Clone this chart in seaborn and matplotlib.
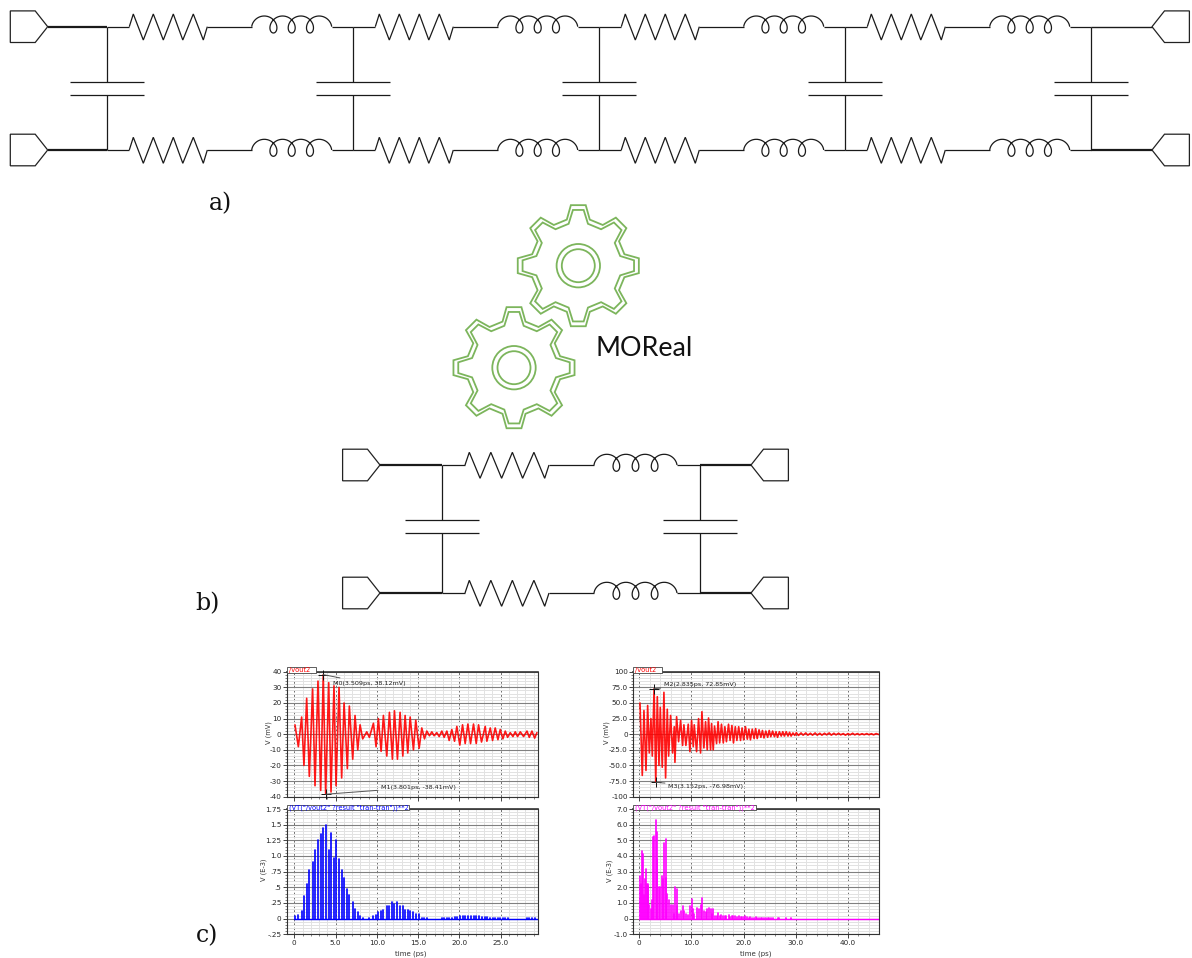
import numpy as np
import pandas as pd
import matplotlib
matplotlib.use('Agg')
import matplotlib.pyplot as plt
from matplotlib.patches import Polygon, Circle, Rectangle
import seaborn as sns

W, H = 1192, 958

# left column, /vout2 extrema (ps, mV)
t_left = [0.08, 0.49, 0.89, 1.17, 1.50, 1.82, 2.22, 2.51, 2.87, 3.20, 3.509, 3.801, 4.17, 4.45, 4.81, 5.06,
          5.42, 5.74, 6.03, 6.43, 6.67, 7.08, 7.36, 7.69, 7.97, 8.29, 8.78, 9.10, 9.59, 9.91, 10.19, 10.52,
          10.80, 11.21, 11.53, 11.89, 12.14, 12.50, 12.82, 13.15, 13.43, 13.75, 14.04, 14.44, 14.72, 15.13,
          15.45, 15.78, 16.06, 16.38, 16.67, 16.95, 17.27, 17.56, 17.88, 18.16, 18.49, 18.77, 19.09, 19.42,
          19.70, 20.06, 20.39, 20.71, 21.04, 21.36, 21.72, 22.05, 22.33, 22.69, 23.14, 23.34, 23.75, 24.03,
          24.35, 24.68, 24.96, 25.28, 25.57, 25.85, 26.17, 26.50, 26.78, 27.06, 27.39, 27.79, 28.20, 28.48,
          28.80, 29.13, 29.41]
v_left = [6, -8, 11, -20, 23, -27, 29, -33, 34, -36, 38.12, -38.41, 33, -37, 31, -33,
          30, -28, 20, -22, 18, -16, 12, -10, 6, -3, 1.5, -2, 7, -8, 10, -11,
          12, -14, 14, -16, 15, -16, 14, -14, 12, -12, 11, -10, 9, -9,
          4, -3, 2, -1, 1.5, -1, 1, -1.5, 2, -2, 2, -4, 3, -4.5,
          5, -7, 6, -6, 6.5, -6, 6.5, -6, 6, -5, 5, -4.5, 4, -4,
          4, -3.5, 3, -3, 2, -2, 1, -1.5, 1.5, -1.5, 1.5, -1.5, 2, -2,
          2, -2.5, 1]
# left column, squared output peaks (E-3)
v2_left = [.036, .064, .12, .36, .55, .78, .9, 1.09, 1.25, 1.35, 1.45, 1.5, 1.09, 1.37, .96, 1.25,
           .95, .78, .65, .48, .38, .26, .15, .1, .036, .01, .002, .004, .05, .06, .1, .12,
           .14, .2, .2, .26, .23, .26, .2, .2, .14, .14, .12, .1, .08, .08,
           .016, .01, .004, .001, .002, .001, .001, .002, .004, .004, .004, .016, .01, .02,
           .025, .05, .036, .036, .042, .036, .042, .036, .036, .025, .025, .02, .016, .016,
           .016, .012, .01, .01, .004, .004, .001, .002, .002, .002, .002, .002, .004, .004,
           .004, .006, .001]

# right column, /vout2 extrema (ps, mV)
t_right = [.13, .57, .89, 1.28, 1.6, 1.91, 2.23, 2.49, 2.835, 3.152, 3.45, 3.77, 4.02, 4.4, 4.72, 5.04,
           5.36, 5.62, 6.0, 6.38, 6.7, 6.83, 7.15, 7.53, 7.91, 8.3, 8.55, 8.93, 9.38, 9.7, 10.02, 10.34,
           10.53, 10.98, 11.36, 11.74, 12.0, 12.38, 12.7, 13.02, 13.27, 13.66, 13.85, 14.17, 14.42, 14.81,
           15.1, 15.4, 15.75, 16.1, 16.4, 16.7, 17.1, 17.4, 17.75, 18.05, 18.4, 18.7, 19.05, 19.4, 19.7, 20.0,
           20.35, 20.7, 21.0, 21.3, 21.65, 22.0, 22.3, 22.6, 22.95, 23.3, 23.6, 23.9, 24.25, 24.6, 24.9, 25.2,
           25.55, 25.9, 26.2, 26.5, 26.85, 27.2, 27.5, 27.8, 28.15, 28.5, 28.8, 29.1, 29.45, 29.8, 30.1, 30.5,
           31.0, 31.4, 31.9, 32.3, 32.8, 33.2, 33.7, 34.1, 34.6, 35.0, 35.5, 35.9, 36.4, 36.8, 37.3, 37.7,
           38.2, 38.6, 39.1, 39.5, 40.0, 40.4, 40.9, 41.3, 41.8, 42.2, 42.7, 43.1, 43.6, 44.0, 44.5, 44.9,
           45.4, 45.9]
v_right = [50, -66, 38, -58, 46, -30, 25, -35, 72.85, -76.98, 60, -50, 43, -53, 67, -70,
           40, -35, 30, -30, 12, -45, 28, -12, 22, -18, 15, -18, 16, -28, 22, -20,
           15, -28, 25, -30, 36, -22, 20, -25, 26, -25, 17, -25, 13, -15,
           20, -14, 16, -14, 12, -12, 16, -10, 14, -14, 12, -10, 12, -10, 10, -9,
           12, -8, 8, -9, 8, -7, 9, -7, 7, -5, 6, -6, 5, -5, 6, -4,
           5, -4, 4, -5, 4, -3, 4, -3, 4, -3, 3, -3, 2, -2, 2.5, -2,
           2, -1.5, 2, -1.5, 1.5, -1.5, 2, -1.5, 1.5, -1.5, 1.5, -1, 2, -1.5, 1.5, -1,
           1.5, -1, 1, -1.5, 1, -1, 1.5, -1, 1, -1, .8, -.8, 1, -.8, .8, -1,
           1, -.5]
# right column, squared output peaks (E-3)
t2_right = [.13, .35, .57, .75, .89, 1.1, 1.28, 1.45, 1.6, 1.75, 1.91, 2.23, 2.49, 2.65, 2.81, 3.13, 3.3, 3.45,
            3.77, 4.02, 4.4, 4.55, 4.72, 5.04, 5.2, 5.36, 5.62, 6.0, 6.38, 6.7, 6.83, 7.15, 7.3, 7.53, 7.91,
            8.3, 8.55, 8.93, 9.38, 9.7, 10.02, 10.34, 10.53, 10.98, 11.36, 11.74, 12.0, 12.38, 12.7, 13.02,
            13.27, 13.66, 13.85, 14.17, 14.42, 14.81, 15.1, 15.4, 15.75, 16.1, 16.4, 16.7, 17.1, 17.4, 17.75,
            18.05, 18.4, 18.7, 19.05, 19.4, 19.7, 20.0, 20.35, 20.7, 21.0, 21.3, 21.65, 22.0, 22.3, 22.6, 22.95,
            23.3, 23.6, 23.9, 24.25, 24.6, 24.9, 25.2, 25.55, 26.5, 26.85, 28.15, 29.0]
v2_right = [2.7, 2.2, 4.3, 4.1, 1.5, 2.5, 3.2, 2.2, 2.1, 2.2, .9, .6, 1.2, 5.2, 5.3, 6.3, 5.5, 3.8,
            2.0, 2.0, 2.7, 2.5, 4.8, 5.1, 2.6, 1.6, 1.2, .9, .9, .3, 2.0, 1.9, .8, .3, .5,
            .8, .5, .3, .25, .8, 1.25, .6, .3, .7, .6, .9, 1.3, .5, .4, .6,
            .65, .6, .3, .6, .2, .2, .35, .2, .25, .2, .15, .15, .25, .1, .2,
            .2, .15, .1, .15, .1, .1, .08, .15, .08, .07, .08, .06, .05, .08, .05, .05,
            .03, .03, .04, .03, .03, .04, .02, .03, .03, .02, .02, .01]

left_xticks = [0, 5, 10, 15, 20, 25]
left_xlabels = ['0', '5.0', '10.0', '15.0', '20.0', '25.0']
right_xticks = [0, 10, 20, 30, 40]
right_xlabels = ['0', '10.0', '20.0', '30.0', '40.0']
lt_yticks = [-40, -30, -20, -10, 0, 10, 20, 30, 40]
lt_ylabels = ['-40', '-30', '-20', '-10', '0', '10', '20', '30', '40']
lb_yticks = [-.25, 0, .25, .5, .75, 1.0, 1.25, 1.5, 1.75]
lb_ylabels = ['-.25', '0', '.25', '.5', '.75', '1.0', '1.25', '1.5', '1.75']
rt_yticks = [-100, -75, -50, -25, 0, 25, 50, 75, 100]
rt_ylabels = ['-100', '-75.0', '-50.0', '-25.0', '0', '25.0', '50.0', '75.0', '100']
rb_yticks = [-1, 0, 1, 2, 3, 4, 5, 6, 7]
rb_ylabels = ['-1.0', '0', '1.0', '2.0', '3.0', '4.0', '5.0', '6.0', '7.0']

SQ_TITLE = '(VT("/vout2" ?result "tran-tran"))**2'
WIRE = '#1a1a1a'

sns.set_style('white')
plt.rcParams['font.family'] = ['DejaVu Sans']

fig = plt.figure(figsize=(W / 100, H / 100), dpi=100)
fig.patch.set_facecolor('white')

canvas = fig.add_axes([0, 0, 1, 1], zorder=10)
canvas.set_xlim(0, W)
canvas.set_ylim(H, 0)
canvas.axis('off')
canvas.patch.set_alpha(0)


def line(xs, ys, lw=0.9, color=WIRE):
  canvas.plot(xs, ys, color=color, lw=lw, solid_capstyle='butt', solid_joinstyle='miter')


def port(tip, yc, direction):
  # direction 1 = body on the left of the tip
  xs = [tip - 37.4 * direction, tip - 12.5 * direction, tip, tip - 12.5 * direction, tip - 37.4 * direction]
  ys = [yc - 15.8, yc - 15.8, yc, yc + 15.8, yc + 15.8]
  canvas.add_patch(Polygon(np.column_stack([xs, ys]), closed=True, fill=False, ec='#222222', lw=0.9))


def resistor(x0, y, width=78):
  s = width / 78
  off = np.array([0, 4, 14, 24, 34, 44, 53.5, 64, 74, 78]) * s
  dy = [0, -12.7, 13.3, -12.7, 13.3, -12.7, 13.3, -12.7, 13.3, 0]
  line(x0 + off, y + np.array(dy))


def inductor(x0, y, width=80, r=7.5):
  th1 = 1.31
  th = np.linspace(th1, 8 * np.pi - th1, 300)
  pad = r * np.sin(th1)
  xs = x0 + pad + (width - 2 * pad) * (th - th1) / (8 * np.pi - 2 * th1) - r * np.sin(th)
  ys = y - 10.7 + 17 * (1 + np.cos(th)) / 2
  line(xs, ys)


def cap(x, y_top, y_bot, half=37):
  y1 = y_top + 55.3
  y2 = y1 + 12.7
  line([x, x], [y_top, y1])
  line([x, x], [y2, y_bot])
  line([x - half, x + half], [y1, y1])
  line([x - half, x + half], [y2, y2])


def gear(cx, cy):
  for tip, base, a_tip, a_base in [(61, 47.5, 7, 14), (56, 43, 5.5, 13)]:
    pts = []
    for k in range(8):
      a = k * 45
      for r, da in [(base, -a_base), (tip, -a_tip), (tip, a_tip), (base, a_base)]:
        rad = np.deg2rad(a + da)
        pts.append((cx + r * np.sin(rad), cy - r * np.cos(rad)))
    canvas.add_patch(Polygon(pts, closed=True, fill=False, ec='#7cb55c', lw=1.3))
  for r in [21.7, 16.5]:
    canvas.add_patch(Circle((cx, cy), r, fill=False, ec='#7cb55c', lw=1.3))


# a) five section line
for y in [26.7, 150]:
  port(47.7, y, 1)
  port(1152, y, -1)
  line([47.7, 107], [y, y], lw=1.6)
  line([1091, 1152], [y, y], lw=1.6 if y > 100 else 1.0)
  for k in range(4):
    x = 107 + 246 * k
    line([x, x + 22.3], [y, y])
    resistor(x + 22.3, y)
    line([x + 100.3, x + 144.7], [y, y])
    inductor(x + 144.7, y)
    line([x + 224.7, x + 246], [y, y])
for x in [107, 353, 599, 845, 1091]:
  cap(x, 26.7, 150)

# b) reduced section
for y in [465, 593]:
  port(380, y, 1)
  port(751, y, -1)
  line([380, 442], [y, y], lw=1.6)
  line([442, 465], [y, y])
  resistor(465, y, 84)
  line([549, 594], [y, y])
  inductor(594, y, 83)
  line([677, 700], [y, y])
  line([700, 751], [y, y], lw=1.6)
for x in [442, 700]:
  cap(x, 465, 593)

gear(578.3, 265.7)
gear(514, 367.7)
canvas.text(596, 348, 'MOReal', fontsize=19.4, family='Lato', color='#111111', va='center', ha='left')

for x, y, s in [(209, 204, 'a)'), (195, 604, 'b)'), (196, 936, 'c)')]:
  canvas.text(x, y, s, fontsize=17, family='DejaVu Serif', color='#111111', va='center', ha='left')


def scope_axes(l, t, r, b, xlim, ylim, xticks, xlabels, yticks, ylabels, xminor, yminor):
  ax = fig.add_axes([l / W, 1 - b / H, (r - l) / W, (b - t) / H], zorder=1)
  ax.set_xlim(*xlim)
  ax.set_ylim(*ylim)
  ax.set_xticks(xticks)
  ax.set_xticklabels(xlabels, fontsize=5.2)
  ax.set_yticks(yticks)
  ax.set_yticklabels(ylabels, fontsize=5.2)
  ax.set_xticks(np.arange(xticks[0], xlim[1], xminor), minor=True)
  ax.set_yticks(np.arange(ylim[0], ylim[1], yminor), minor=True)
  ax.grid(True, which='minor', color='#e2e2e2', lw=0.7)
  ax.grid(True, which='major', axis='y', color='#808080', lw=0.8)
  ax.grid(True, which='major', axis='x', color='#6e6e6e', lw=0.7, ls=(0, (2.5, 2)))
  ax.set_axisbelow(True)
  ax.tick_params(which='major', direction='out', length=3, width=0.6, pad=1, left=True, bottom=True)
  ax.tick_params(which='minor', direction='out', length=1.5, width=0.4, left=True, bottom=True)
  for sp in ax.spines.values():
    sp.set_color('#333333')
    sp.set_linewidth(0.8)
  ax.spines['top'].set_linewidth(1.2)
  return ax


def trace(ax, t, v, color):
  df = pd.DataFrame({'t': t, 'v': v})
  sns.lineplot(data=df, x='t', y='v', ax=ax, color=color, lw=1.2, alpha=0.9, sort=False, estimator=None)
  ax.set_xlabel('')
  ax.set_ylabel('')


def spikes(ax, t, v, color, end):
  t = np.asarray(t)
  df = pd.DataFrame({'t': np.repeat(t, 2),
                     'v': np.column_stack([np.zeros(len(t)), v]).ravel(),
                     'u': np.repeat(np.arange(len(t)), 2)})
  sns.lineplot(data=df, x='t', y='v', units='u', ax=ax, color=color, lw=1.2, sort=False, estimator=None)
  sns.lineplot(x=[0, end], y=[0, 0], ax=ax, color=color, lw=1.0, estimator=None)
  ax.set_xlabel('')
  ax.set_ylabel('')


def marker(ax, t, v, label, dx, dy):
  ax.plot([t], [v], marker='+', ms=7, mew=0.7, color='#111111', clip_on=False, zorder=5)
  ax.annotate(label, xy=(t, v), xytext=(dx, dy), textcoords='offset points', fontsize=4.6,
              color='#222222', va='center', ha='left', annotation_clip=False, zorder=6,
              arrowprops=dict(arrowstyle='-', color='#555555', lw=0.7, shrinkA=0, shrinkB=0))


def tab(x0, x1, y0, y1, s, color):
  canvas.add_patch(Rectangle((x0, y0), x1 - x0, y1 - y0, fc='white', ec='#444444', lw=0.6))
  canvas.text(x0 + 2, (y0 + y1) / 2 + 0.3, s, fontsize=4.8, color=color, va='center', ha='left')


lt = scope_axes(287, 671.7, 537.7, 796.7, (-0.885, 29.5), (-40, 40), left_xticks, [], lt_yticks, lt_ylabels, 1, 2)
lb = scope_axes(287, 809, 537.7, 934.3, (-0.885, 29.5), (-.25, 1.75), left_xticks, left_xlabels, lb_yticks, lb_ylabels, 1, .05)
rt = scope_axes(633.3, 671.7, 879.3, 796.7, (-1.15, 46), (-100, 100), right_xticks, [], rt_yticks, rt_ylabels, 2, 5)
rb = scope_axes(633.3, 809, 879.3, 934.3, (-1.15, 46), (-1, 7), right_xticks, right_xlabels, rb_yticks, rb_ylabels, 2, .2)

trace(lt, t_left, v_left, '#ff0000')
trace(rt, t_right, v_right, '#ff0000')
spikes(lb, t_left, v2_left, '#0000ff', 29.5)
spikes(rb, t2_right, v2_right, '#ff00ff', 46)

marker(lt, 3.509, 38.12, 'M0(3.509ps, 38.12mV)', 7.2, -6.5)
marker(lt, 3.801, -38.41, 'M1(3.801ps, -38.41mV)', 40, 5)
marker(rt, 2.835, 72.85, 'M2(2.835ps, 72.85mV)', 7, 3)
marker(rt, 3.152, -76.98, 'M3(3.152ps, -76.98mV)', 9, -3)

tab(287, 316, 667, 672.7, '/vout2', '#ff0000')
tab(287, 409, 805, 810, SQ_TITLE, '#0000ff')
tab(633.3, 661.7, 667, 672.7, '/vout2', '#ff0000')
tab(633.3, 755.7, 805, 810, SQ_TITLE, '#ff00ff')

for x, y, s in [(269, 733, 'V (mV)'), (264, 870, 'V (E-3)'), (607, 733, 'V (mV)'), (610, 871, 'V (E-3)')]:
  canvas.text(x, y, s, fontsize=4.8, rotation=90, va='center', ha='center', color='#333333')
for x, s in [(411, 'time (ps)'), (756, 'time (ps)')]:
  canvas.text(x, 954, s, fontsize=5, va='center', ha='center', color='#333333')

fig.savefig('out.png', dpi=100)
